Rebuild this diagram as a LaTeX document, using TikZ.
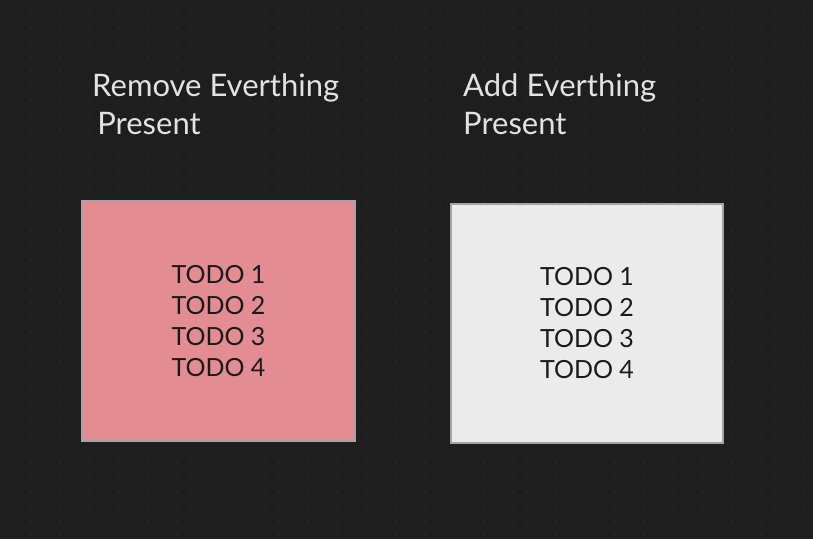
\documentclass[tikz,border=0pt]{standalone}
\usepackage{fontspec}
\setmainfont{Lato}
\definecolor{bgdark}{HTML}{1E1E1E}
\definecolor{griddot}{HTML}{2A2A2A}
\definecolor{pinkfill}{HTML}{E38D93}
\definecolor{greyfill}{HTML}{EBEBEB}
\definecolor{boxline}{HTML}{A4A4A4}
\definecolor{titletext}{HTML}{E2E2E2}
\definecolor{todotext}{HTML}{1A1A1A}
\tikzset{
  todobox/.style={draw=boxline,line width=1.5pt,inner sep=0pt,align=center,
    text=todotext,font=\fontsize{25}{31}\selectfont},
  titlelabel/.style={anchor=north west,inner sep=0pt,align=left,
    text=titletext,font=\fontsize{31}{38}\selectfont}
}
\begin{document}
\begin{tikzpicture}[x=1pt,y=1pt,yscale=-1,xscale=1]
%set diagram size to 813 x 539
\useasboundingbox[fill=bgdark] (0,0) rectangle (813,539);

%Dot grid
\foreach \i in {0,...,55}
  \foreach \j in {0,...,37}
    \fill[griddot] (1.7+14.6*\i,13.3+14.5*\j) circle (1.1);

% Text Node
\node[titlelabel] (removetitle) at (92,73) {Remove Everthing\\\,Present};
% Text Node
\node[titlelabel] (addtitle) at (463,73) {Add Everthing\\Present};

%Shape: Rectangle
\node[todobox,fill=pinkfill,minimum width=273,minimum height=240] (removebox) at (218.5,321)
  {TODO 1\\TODO 2\\TODO 3\\TODO 4};
%Shape: Rectangle
\node[todobox,fill=greyfill,minimum width=272,minimum height=239] (addbox) at (587,323.5)
  {TODO 1\\TODO 2\\TODO 3\\TODO 4};

\end{tikzpicture}
\end{document}
